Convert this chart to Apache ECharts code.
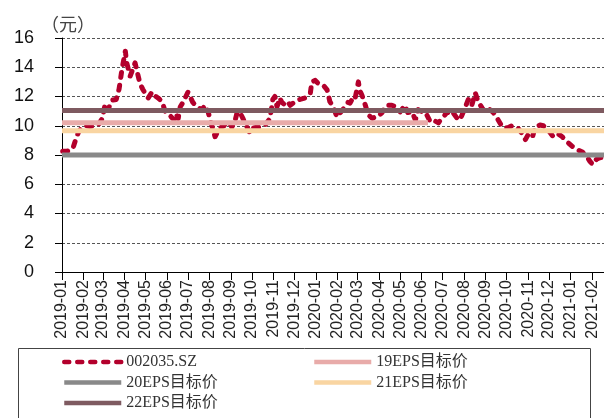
<!DOCTYPE html>
<html>
<head>
<meta charset="utf-8">
<script src="https://cdn.jsdelivr.net/npm/echarts@6/dist/echarts.min.js"></script>
<style>
  html, body { margin: 0; padding: 0; background: #fff; }
  #main { width: 604px; height: 418px; }
</style>
</head>
<body>
<div id="main"></div>
<script>
// 股价（元），按读图取点
const dates = [
  '2019-01-02','2019-01-07','2019-01-12','2019-01-17','2019-01-21','2019-01-25','2019-01-30',
  '2019-02-05','2019-02-10','2019-02-16','2019-02-22','2019-02-28',
  '2019-03-04','2019-03-08','2019-03-14','2019-03-20','2019-03-24','2019-03-28',
  '2019-04-02','2019-04-04','2019-04-09','2019-04-13','2019-04-16','2019-04-19','2019-04-23','2019-04-27',
  '2019-05-02','2019-05-05','2019-05-09','2019-05-12','2019-05-16','2019-05-19','2019-05-25','2019-05-29',
  '2019-06-02','2019-06-07','2019-06-11','2019-06-14','2019-06-17','2019-06-20','2019-06-24','2019-06-28',
  '2019-07-01','2019-07-05','2019-07-08','2019-07-14','2019-07-21','2019-07-26','2019-07-30',
  '2019-08-05','2019-08-09','2019-08-13','2019-08-16','2019-08-22','2019-08-26','2019-08-31',
  '2019-09-02','2019-09-07','2019-09-10','2019-09-14','2019-09-18','2019-09-21','2019-09-25','2019-09-28',
  '2019-10-03','2019-10-08','2019-10-13','2019-10-20','2019-10-27','2019-10-31',
  '2019-11-03','2019-11-06','2019-11-10','2019-11-13','2019-11-18','2019-11-22','2019-11-25',
  '2019-12-02','2019-12-09','2019-12-16','2019-12-24','2019-12-26','2019-12-31',
  '2020-01-04','2020-01-07','2020-01-11','2020-01-17','2020-01-21','2020-01-26','2020-01-31',
  '2020-02-05','2020-02-12','2020-02-16','2020-02-19','2020-02-23','2020-02-26',
  '2020-03-02','2020-03-04','2020-03-07','2020-03-12','2020-03-16','2020-03-22','2020-03-26','2020-03-29',
  '2020-04-05','2020-04-09','2020-04-14','2020-04-19','2020-04-24',
  '2020-05-01','2020-05-08','2020-05-12','2020-05-18','2020-05-23','2020-05-27',
  '2020-06-02','2020-06-06','2020-06-13','2020-06-17','2020-06-25','2020-06-30',
  '2020-07-08','2020-07-12','2020-07-16','2020-07-22','2020-07-26',
  '2020-08-02','2020-08-07','2020-08-12','2020-08-17','2020-08-21','2020-08-27','2020-08-31',
  '2020-09-07','2020-09-12','2020-09-17','2020-09-25',
  '2020-10-02','2020-10-09','2020-10-16','2020-10-23','2020-10-28',
  '2020-11-01','2020-11-07','2020-11-11','2020-11-18','2020-11-23','2020-11-30',
  '2020-12-07','2020-12-14','2020-12-20','2020-12-27',
  '2021-01-03','2021-01-11','2021-01-18','2021-01-25','2021-01-29',
  '2021-02-02','2021-02-07','2021-02-11','2021-02-17'
];
const prices = [
  8.25, 8.25, 8.3, 8.5, 9.1, 9.6, 9.9,
  10.0, 9.95, 10.0, 10.05, 10.5,
  11.5, 11.1, 11.75, 11.8, 12.5, 13.8,
  15.1, 14.3, 13.4, 13.9, 14.3, 13.7, 12.9, 12.5,
  12.1, 11.9, 12.2, 12.3, 12.0, 11.9, 11.65, 11.0,
  10.9, 10.6, 10.4, 10.8, 10.5, 11.3, 11.6, 12.0,
  12.3, 11.9, 11.6, 11.3, 11.1, 11.4, 10.95,
  9.9, 9.25, 9.6, 9.85, 10.0, 10.3, 10.1,
  9.9, 10.4, 10.95, 10.9, 10.5, 10.2, 9.8, 9.5,
  9.85, 9.9, 9.9, 10.05, 10.5, 11.8,
  12.0, 11.3, 11.9, 11.6, 11.4, 11.6, 11.4,
  11.65, 11.8, 11.9, 12.25, 13.0, 13.1,
  12.9, 12.9, 12.8, 12.45, 11.65, 11.3, 10.6,
  10.9, 11.3, 11.6, 11.55, 11.9, 11.8,
  13.0, 12.4, 12.1, 11.4, 10.75, 10.5, 10.6, 10.6,
  10.9, 11.3, 11.4, 11.4, 11.3,
  10.95, 11.4, 10.9, 10.95, 10.4, 11.1,
  10.95, 10.95, 10.3, 10.4, 10.2, 10.5,
  10.95, 10.75, 10.9, 10.5, 10.4,
  11.2, 11.8, 11.4, 12.25, 11.65, 11.2, 10.95,
  11.1, 10.9, 10.55, 9.9,
  9.85, 10.0, 9.9, 9.5, 9.05,
  9.4, 9.2, 9.9, 10.05, 10.0, 9.7,
  9.25, 9.45, 9.25, 8.9,
  8.6, 8.35, 8.2, 7.85, 7.55,
  7.35, 7.7, 7.8, 7.85
];

// 目标价
const stockName = '002035.SZ';
const targetNames = ['19EPS目标价', '20EPS目标价', '21EPS目标价', '22EPS目标价'];
const targetValues = [10.2, 8.0, 9.65, 11.05];
const targetStart = ['2019-01-01', '2019-01-01', '2019-01-01', '2019-01-01'];
const targetEnd = ['2020-06-10', '2021-02-18', '2021-02-18', '2021-02-18'];
const targetColors = ['#E8ABA9', '#898989', '#F9D5A2', '#7E5A60'];

const yTicks = [0, 2, 4, 6, 8, 10, 12, 14, 16];

const chart = echarts.init(document.getElementById('main'));

const series = [{
  name: stockName,
  type: 'line',
  data: dates.map((d, i) => [d, prices[i]]),
  symbol: 'none',
  smooth: false,
  lineStyle: { color: '#B3002C', width: 5, type: [5, 8], cap: 'round', join: 'round' },
  itemStyle: { color: '#B3002C' },
  z: 2
}];
targetNames.forEach((n, i) => {
  series.push({
    name: n,
    type: 'line',
    data: [[targetStart[i], targetValues[i]], [targetEnd[i], targetValues[i]]],
    symbol: 'none',
    lineStyle: { color: targetColors[i], width: 5 },
    itemStyle: { color: targetColors[i] },
    z: 3
  });
});

const legendText = {
  fontFamily: "'Liberation Serif', 'Noto Sans CJK SC', serif",
  fontSize: 16,
  lineHeight: 16,
  color: '#333'
};
const legendBase = {
  top: 354,
  orient: 'vertical',
  padding: 0,
  height: 70,
  itemWidth: 57,
  itemHeight: 14,
  itemGap: 4.5,
  itemStyle: { opacity: 0 },
  lineStyle: { width: 4.5 },
  textStyle: legendText
};

const option = {
  animation: false,
  backgroundColor: '#fff',
  grid: { left: 62, right: 0, top: 38, bottom: 146 },
  title: {
    text: '（元）',
    left: 36,
    top: 10,
    textStyle: { fontFamily: "'Noto Sans CJK SC'", fontSize: 18, fontWeight: 'normal', color: '#444' }
  },
  xAxis: {
    type: 'time',
    min: '2019-01-01',
    max: '2021-02-18',
    splitNumber: 26,
    minInterval: 28 * 24 * 3600 * 1000,
    axisLine: { lineStyle: { color: '#000', width: 1 } },
    axisTick: { show: true, length: 8, lineStyle: { color: '#000' } },
    splitLine: { show: false },
    axisLabel: {
      rotate: 90,
      margin: 8,
      showMaxLabel: false,
      formatter: '{yyyy}-{MM}',
      fontFamily: "'Liberation Sans', Arial, sans-serif",
      fontSize: 16,
      color: '#222'
    }
  },
  yAxis: {
    type: 'value',
    min: yTicks[0],
    max: yTicks[yTicks.length - 1],
    interval: 2,
    axisLine: { show: true, lineStyle: { color: '#000', width: 1 } },
    axisTick: { show: true, length: 7, lineStyle: { color: '#000' } },
    splitLine: { show: true, lineStyle: { color: '#555', type: [3, 2], width: 1 } },
    axisLabel: {
      margin: 28,
      fontFamily: "'Liberation Sans', Arial, sans-serif",
      fontSize: 18,
      color: '#111'
    }
  },
  legend: [
    Object.assign({}, legendBase, { left: 62, data: [stockName, targetNames[1], targetNames[3]] }),
    Object.assign({}, legendBase, { left: 312, data: [targetNames[0], targetNames[2]] })
  ],
  graphic: [{
    type: 'rect',
    left: 16,
    top: 346,
    shape: { width: 572, height: 90 },
    style: { fill: 'none', stroke: '#444', lineWidth: 1 },
    silent: true
  }],
  series: series
};

chart.setOption(option);
</script>
</body>
</html>
